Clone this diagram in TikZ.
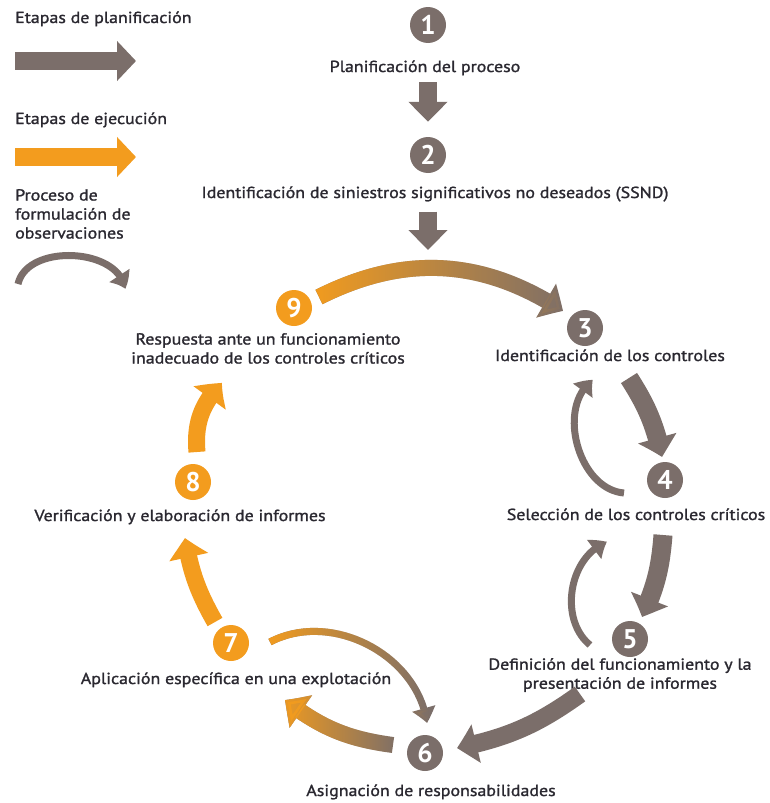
\documentclass[tikz,border=0pt]{standalone}
\usepackage{fontspec}
\setmainfont{PT Sans}
\newfontfamily\rotulo{PT Sans}[FakeStretch=1.12, FakeBold=1.4]
\usetikzlibrary{arrows.meta}
\usetikzlibrary{bending}
\usetikzlibrary{fadings}

\definecolor{gris}{HTML}{7B6E6A}
\definecolor{naranja}{HTML}{F39C1E}
\definecolor{texto}{HTML}{2A2830}

\tikzfading[name=degradado, left color=transparent!0, right color=transparent!100]

\tikzset{
  paso/.style={circle, fill=gris, text=white, minimum size=36pt, inner sep=0pt,
    font=\fontsize{27}{27}\selectfont\bfseries},
  pasoej/.style={paso, fill=naranja},
  etiqueta/.style={text=texto, font=\rotulo\fontsize{16}{19}\selectfont, inner sep=0pt, align=center},
  grueso/.style={gris, line width=18pt, -{Triangle[length=20pt,width=38pt,bend]}},
  fino/.style={gris, line width=7pt, -{Triangle[length=15pt,width=23pt,bend]}},
}

\begin{document}
\begin{tikzpicture}[x=1pt,y=-1pt]
  \useasboundingbox (0,0) rectangle (769,803);

  % leyenda
  \node[etiqueta, anchor=base west] (lplan) at (15,23) {Etapas de planificación};
  \node[etiqueta, anchor=base west] (lejec) at (15,124) {Etapas de ejecución};
  \node[etiqueta, anchor=north west, align=left] (lobs) at (15,189) {Proceso de\\formulación de\\observaciones};

  \coordinate (lp1) at (15,61);
  \coordinate (lp2) at (136,61);
  \coordinate (le1) at (15,157);
  \coordinate (le2) at (136,157);
  \coordinate (lo1) at (18,284);
  \coordinate (lo2) at (125,289);

  \draw[grueso, -{Triangle[length=19pt,width=39pt]}] (lp1) -- (lp2);
  \draw[grueso, naranja, -{Triangle[length=19pt,width=39pt]}] (le1) -- (le2);
  \draw[fino] (lo1) to[bend left=80] (lo2);

  % pasos
  \node[paso] (n1) at (428,25) {1};
  \node[etiqueta, anchor=base] (t1) at (425,72) {Planificación del proceso};
  \node[paso] (n2) at (428,155) {2};
  \node[etiqueta, anchor=base] (t2) at (435,198) {Identificación de siniestros significativos no deseados (SSND)};
  \node[paso] (n3) at (585,328) {3};
  \node[etiqueta, anchor=base] (t3) at (610,361) {Identificación de los controles};
  \node[paso] (n4) at (665,480) {4};
  \node[etiqueta, anchor=base] (t4) at (636,520) {Selección de los controles críticos};
  \node[paso] (n5) at (630,639) {5};
  \node[etiqueta, anchor=north] (t5) at (620,658) {Definición del funcionamiento y la\\presentación de informes};
  \node[paso] (n6) at (425,753) {6};
  \node[etiqueta, anchor=base] (t6) at (431,796) {Asignación de responsabilidades};
  \node[pasoej] (n7) at (231,643) {7};
  \node[etiqueta, anchor=base] (t7) at (236,684) {Aplicación específica en una explotación};
  \node[pasoej] (n8) at (193,482) {8};
  \node[etiqueta, anchor=base] (t8) at (180,521) {Verificación y elaboración de informes};
  \node[pasoej] (n9) at (294,308) {9};
  \node[etiqueta, anchor=north] (t9) at (268,333) {Respuesta ante un funcionamiento\\inadecuado de los controles críticos};

  % extremos de las flechas
  \coordinate (c2) at (428,250);
  \coordinate (a93) at (319,297);
  \coordinate (b93) at (563,311);
  \coordinate (a34) at (629,378);
  \coordinate (b34) at (662,457);
  \coordinate (a43) at (624,493);
  \coordinate (b43) at (593,380);
  \coordinate (a45) at (663,535);
  \coordinate (b45) at (642,617);
  \coordinate (a54) at (590,645);
  \coordinate (b54) at (607,542);
  \coordinate (a56) at (580,694);
  \coordinate (b56) at (457,748);
  \coordinate (a67) at (393,745);
  \coordinate (b67) at (285,700);
  \coordinate (a76) at (270,642);
  \coordinate (b76) at (427,723);
  \coordinate (a78) at (215,622);
  \coordinate (b78) at (185,538);
  \coordinate (a89) at (197,452);
  \coordinate (b89) at (222,383);

  % planificacion
  \draw[grueso, shorten <=7pt, shorten >=15pt] (t1.south -| n2.north) -- (n2.north);
  \draw[grueso, shorten <=10pt] (t2.south -| n2) -- (c2);
  \draw[grueso, line width=16pt] (a93) to[bend left=30] (b93);
  \draw[grueso, line width=16pt, naranja, path fading=degradado] (a93) to[bend left=30] (b93);
  \draw[grueso, line width=19pt] (a34) to[bend left=10] (b34);
  \draw[fino] (a43) to[bend left=70] (b43);
  \draw[grueso, line width=19pt] (a45) to[bend left=10] (b45);
  \draw[fino] (a54) to[bend left=60] (b54);
  \draw[grueso] (a56) to[bend left=12] (b56);

  % ejecucion
  \draw[grueso, line width=16pt] (a67) to[bend left=15] (b67);
  \draw[grueso, line width=16pt, naranja, path fading=degradado] (a67) to[bend left=15] (b67);
  \draw[fino] (a76) to[bend left=55] (b76);
  \draw[fino, naranja, path fading=degradado] (a76) to[bend left=55] (b76);
  \draw[grueso, naranja, line width=17pt] (a78) to[bend left=10] (b78);
  \draw[grueso, naranja, line width=17pt] (a89) to[bend left=25] (b89);
\end{tikzpicture}
\end{document}
